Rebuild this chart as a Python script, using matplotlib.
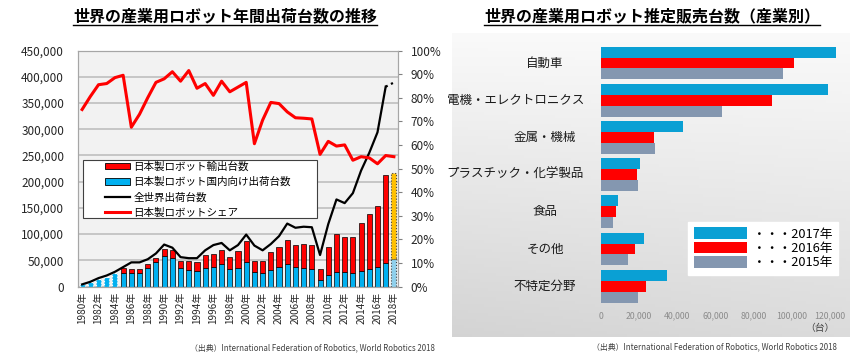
# 世界の産業用ロボット: 年間出荷台数の推移 + 産業別推定販売台数

import numpy as np
import matplotlib
matplotlib.use('Agg')
import matplotlib.pyplot as plt
from matplotlib.patches import Rectangle
from matplotlib.lines import Line2D
from matplotlib.ticker import FuncFormatter

plt.rcParams['font.family'] = ['Noto Sans CJK JP', 'DejaVu Sans']

# ---- 左: 年間出荷台数 ----
years = list(range(1980, 2019))
jp_domestic = [4000, 8000, 15000, 19000, 26000, 26000, 25000, 26000, 35000, 46000,
               59000, 55000, 36000, 31000, 29000, 36000, 38000, 43000, 33000, 35000,
               47000, 28000, 25000, 31000, 37000, 43000, 38000, 35000, 33000, 12000,
               22000, 27000, 27000, 25000, 30000, 33000, 38000, 44000, 53000]
jp_export = [0, 0, 0, 0, 0, 9000, 8000, 8000, 8000, 9000,
             13000, 14000, 13000, 17000, 17000, 24000, 24000, 27000, 24000, 33000,
             39000, 21000, 24000, 34000, 39000, 46000, 41000, 46000, 47000, 21000,
             53000, 73000, 68000, 70000, 92000, 106000, 115000, 169000, 163000]
world_total = [4000, 9000, 16000, 21000, 28000, 37000, 46000, 46000, 52000, 63000,
               80000, 74000, 56000, 54000, 54000, 69000, 79000, 83000, 69000, 79000,
               99000, 78000, 69000, 81000, 96000, 120000, 112000, 114000, 113000, 60000,
               119000, 166000, 159000, 178000, 221000, 255000, 294000, 381000, 389000]
jp_share = [75, 80.5, 85.5, 86, 88.5, 89.5, 67.5, 73, 80, 86.5,
            88, 91, 87, 91.5, 84, 86, 81, 87, 82.5, 84.5,
            86.5, 60.5, 70.5, 78, 77.5, 74, 71.5, 71.3, 71, 56,
            61.5, 59.5, 60, 53.5, 55, 54.5, 52, 55.5, 55]
legend_labels = ['日本製ロボット輸出台数', '日本製ロボット国内向け出荷台数', '全世界出荷台数', '日本製ロボットシェア']

# ---- 右: 産業別 ----
industries = ['自動車', '電機・エレクトロニクス', '金属・機械', 'プラスチック・化学製品', '食品', 'その他', '不特定分野']
sales_2017 = [123000, 119000, 43000, 20600, 9200, 22700, 34500]
sales_2016 = [101000, 89500, 27700, 19000, 7800, 17900, 23700]
sales_2015 = [95600, 63300, 28600, 19700, 6400, 14500, 19300]
year_labels = ['・・・2017年', '・・・2016年', '・・・2015年']

W, H = 850, 354


def fr(x0, y0, x1, y1):
    # ピクセル座標(左上原点) -> figure座標
    return [x0 / W, 1 - y1 / H, (x1 - x0) / W, (y1 - y0) / H]


fig = plt.figure(figsize=(8.5, 3.54), dpi=100)

# 右側の背景グラデーション
bg = fig.add_axes(fr(452, 33, 850, 337))
yy, xx = np.mgrid[0:1:100j, 0:1:100j]
v = 0.98 - 0.12 * yy - 0.03 * (1 - xx) * yy
bg.imshow(np.dstack([v, v, v]), aspect='auto', extent=[0, 1, 0, 1])
bg.axis('off')

# ---- 左グラフ ----
ax = fig.add_axes(fr(78, 50.5, 398, 286.5))
ax.set_facecolor('#f2f2f2')
x = np.arange(len(years))
n = len(years)
dom_colors = ['#00b0f0'] * (n - 1) + ['#8fd0ec']
exp_colors = ['#ff0000'] * (n - 1) + ['#ffc000']
edge_colors = ['white'] * 5 + ['black'] * (n - 6) + ['#404040']

b1 = ax.bar(x, jp_domestic, width=0.62, color=dom_colors, edgecolor=edge_colors, linewidth=0.5, zorder=2)
b2 = ax.bar(x, jp_export, width=0.62, bottom=jp_domestic, color=exp_colors, edgecolor=edge_colors,
            linewidth=0.5, zorder=2)
for bars in (b1, b2):
    for i in list(range(5)) + [n - 1]:
        bars[i].set_linestyle(':')
        bars[i].set_linewidth(0.8)

ax.plot(x[:-1], world_total[:-1], color='black', lw=1.6, zorder=3)
ax.plot(x[-2:], world_total[-2:], color='black', lw=1.6, ls=':', zorder=3)

ax.set_xlim(-0.5, n - 0.5)
ax.set_ylim(0, 450000)
ax.set_yticks(np.arange(0, 450001, 50000))
ax.yaxis.set_major_formatter(FuncFormatter(lambda v, p: f'{v:,.0f}'))
ax.grid(axis='y', color='#bfbfbf', lw=1.2)
ax.set_axisbelow(True)
ax.tick_params(axis='y', length=0, pad=10, labelsize=8.5, labelcolor='#262626')
ax.set_xticks(x[::2])
ax.set_xticklabels([f'{y}年' for y in years[::2]], rotation=90, fontsize=7.2)
ax.tick_params(axis='x', length=0, pad=4, labelcolor='#262626')
for s in ax.spines.values():
    s.set_color('#a6a6a6')

ax_r = ax.twinx()
ax_r.plot(x, jp_share, color='#ff0000', lw=2.2, zorder=4)
ax_r.set_ylim(0, 100)
ax_r.set_yticks(np.arange(0, 101, 10))
ax_r.yaxis.set_major_formatter(FuncFormatter(lambda v, p: f'{v:.0f}%'))
ax_r.tick_params(axis='y', length=3, color='#808080', pad=6, labelsize=8.5, labelcolor='#262626')
for s in ax_r.spines.values():
    s.set_color('#a6a6a6')

# 凡例(枠は別に描く)
box = Rectangle((83 / W, 1 - 218 / H), 234 / W, 58 / H, transform=fig.transFigure,
                facecolor='white', edgecolor='#404040', lw=0.8, zorder=4)
ax_r.add_patch(box)
handles = [Rectangle((0, 0), 1, 1, fc='#ff0000', ec='black', lw=0.6),
           Rectangle((0, 0), 1, 1, fc='#00b0f0', ec='black', lw=0.6),
           Line2D([], [], color='black', lw=1.6),
           Line2D([], [], color='#ff0000', lw=2.2)]
ax_r.legend(handles, legend_labels, loc='upper left', bbox_to_anchor=(105 / W, 1 - 161.5 / H),
            bbox_transform=fig.transFigure, frameon=False, fontsize=7.6, handlelength=2.4,
            handleheight=0.55, handletextpad=0.3, labelspacing=0.48, borderpad=0, borderaxespad=0)

# ---- 右グラフ ----
ax2 = fig.add_axes([600.7 / W, 1 - 304.8 / H, 238.9 / W, 260.4 / H])
ax2.set_facecolor('none')
pos = np.arange(len(industries))
h = 0.293
ax2.barh(pos - h, sales_2017, height=h, color='#0aa0d4')
ax2.barh(pos, sales_2016, height=h, color='#ff0000')
ax2.barh(pos + h, sales_2015, height=h, color='#8497b0')
ax2.set_ylim(len(industries) - 0.5, -0.5)
ax2.set_xlim(0, 125000)
ax2.set_xticks(np.arange(0, 120001, 20000))
ax2.xaxis.set_major_formatter(FuncFormatter(lambda v, p: f'{v:,.0f}'))
ax2.tick_params(axis='x', length=0, pad=5, labelsize=6.3, labelcolor='#8c8c8c')
ax2.set_yticks([])
for s in ax2.spines.values():
    s.set_visible(False)

renderer = fig.canvas.get_renderer()
for i, name in enumerate(industries):
    t = ax2.text((545 - 600.7) / 238.9, i, name, transform=ax2.get_yaxis_transform(),
                 ha='center', va='center', fontsize=9, color='#1a1a1a')
    bb = t.get_window_extent(renderer)
    if bb.x1 > 584:
        t.set_ha('right')
        t.set_x((584 - 600.7) / 238.9)

fig.text(820 / W, 1 - 328 / H, '（台）', ha='center', va='center', fontsize=7, color='#404040')

ax2.legend([Rectangle((0, 0), 1, 1, fc='#0aa0d4'), Rectangle((0, 0), 1, 1, fc='#ff0000'),
            Rectangle((0, 0), 1, 1, fc='#8497b0')], year_labels,
           loc='upper left', bbox_to_anchor=(688 / W, 1 - 221.7 / H), bbox_transform=fig.transFigure,
           fontsize=9.2, handlelength=4.2, handleheight=1.0, handletextpad=0.4, labelspacing=0.1,
           borderpad=0.45, borderaxespad=0, fancybox=False, framealpha=1, edgecolor='white')

# 出典
src = '（出典）International Federation of Robotics, World Robotics 2018'
fig.text(190 / W, 1 - 348 / H, src, fontsize=5.7, color='#404040', va='center')
fig.text(592 / W, 1 - 347 / H, src, fontsize=5.7, color='#404040', va='center')

# タイトル(下線付き)
for cx, title in [(225, '世界の産業用ロボット年間出荷台数の推移'), (652, '世界の産業用ロボット推定販売台数（産業別）')]:
    t = fig.text(cx / W, 1 - 16 / H, title, ha='center', va='center', fontsize=11.5, weight='bold')
    bb = t.get_window_extent(renderer)
    fig.add_artist(Line2D([bb.x0 / W, bb.x1 / W], [(bb.y0 - 1) / H, (bb.y0 - 1) / H],
                          transform=fig.transFigure, color='black', lw=1))

fig.savefig('out.png', dpi=100)
